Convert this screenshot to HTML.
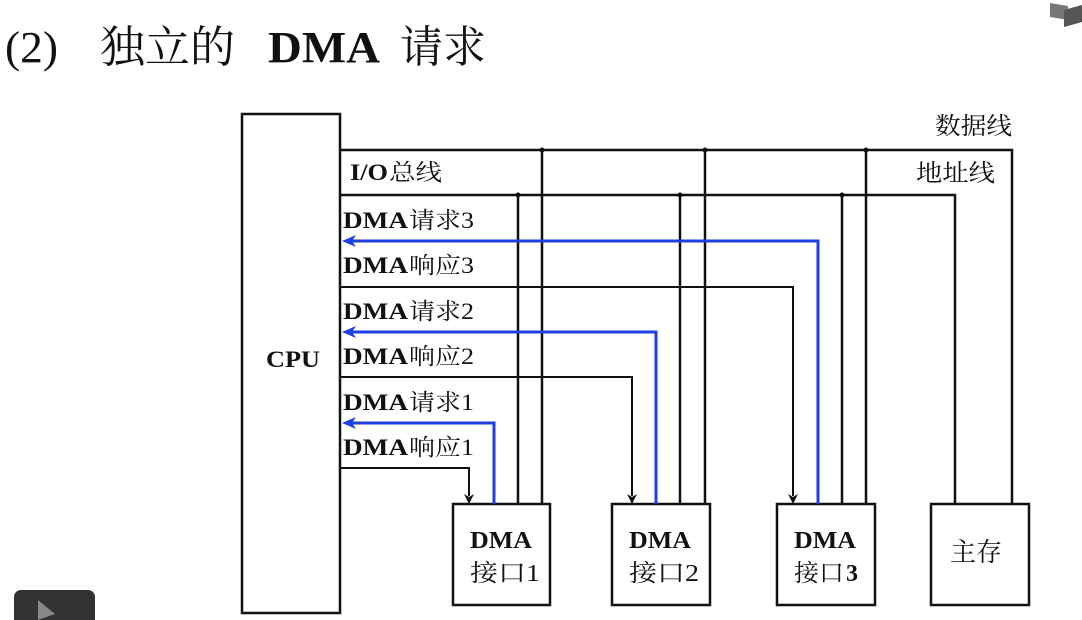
<!DOCTYPE html>
<html><head><meta charset="utf-8"><style>
html,body{margin:0;padding:0;background:#fff;width:1082px;height:620px;overflow:hidden}
svg{display:block}
.s{font-family:"Liberation Serif","Noto Serif CJK SC",serif}
</style></head><body>
<svg width="1082" height="620" viewBox="0 0 1082 620" xmlns="http://www.w3.org/2000/svg">
<g class="s" fill="#111" font-size="44">
<text x="5" y="62" textLength="53" lengthAdjust="spacingAndGlyphs">(2)</text>
<text x="100" y="62" textLength="135" lengthAdjust="spacingAndGlyphs">独立的</text>
<text x="268" y="62" font-weight="bold" textLength="112" lengthAdjust="spacingAndGlyphs">DMA</text>
<text x="400" y="62" textLength="86" lengthAdjust="spacingAndGlyphs">请求</text>
</g>
<polygon points="1050,3 1068,6 1068,20 1050,17" fill="#777"/>
<polygon points="1064,10 1082,5 1082,22 1064,27" fill="#555"/>
<rect x="14" y="590" width="81" height="40" rx="7" fill="#333"/>
<polygon points="38,600 55,614 38,620" fill="#888"/>

<g stroke="#111" stroke-width="2.5" fill="none">
<rect x="242" y="114" width="98" height="499"/>
<rect x="453" y="504" width="97" height="101"/>
<rect x="612" y="504" width="98" height="101"/>
<rect x="777" y="504" width="98" height="101"/>
<rect x="931" y="504" width="98" height="101"/>
<polyline points="340,150 1012,150 1012,504"/>
<line x1="542" y1="150" x2="542" y2="504"/>
<line x1="705" y1="150" x2="705" y2="504"/>
<line x1="866" y1="150" x2="866" y2="504"/>
<polyline points="340,195 955,195 955,504"/>
<line x1="518" y1="195" x2="518" y2="504"/>
<line x1="680" y1="195" x2="680" y2="504"/>
<line x1="842" y1="195" x2="842" y2="504"/>
</g>
<g fill="#111">
<circle cx="542" cy="150" r="2.5"/><circle cx="705" cy="150" r="2.5"/><circle cx="866" cy="150" r="2.5"/>
<circle cx="518" cy="195" r="2.5"/><circle cx="680" cy="195" r="2.5"/><circle cx="842" cy="195" r="2.5"/>
</g>
<g stroke="#111" stroke-width="2" fill="none">
<polyline points="340,287 793,287 793,496"/>
<polyline points="340,377 632,377 632,496"/>
<polyline points="340,468 469,468 469,496"/>
</g>
<g fill="#111">
<path d="M788,494 L793,504 L798,494 L793,497Z"/>
<path d="M627,494 L632,504 L637,494 L632,497Z"/>
<path d="M464,494 L469,504 L474,494 L469,497Z"/>
</g>
<g stroke="#1f3fe0" stroke-width="3" fill="none">
<polyline points="818,504 818,241 352,241"/>
<polyline points="656,504 656,332 352,332"/>
<polyline points="494,504 494,423 352,423"/>
</g>
<g fill="#1f3fe0">
<path d="M342,241 L356,235 L352,241 L356,247Z"/>
<path d="M342,332 L356,326 L352,332 L356,338Z"/>
<path d="M342,423 L356,417 L352,423 L356,429Z"/>
</g>

<g class="s" fill="#111" font-size="23">
<text x="266" y="367" font-weight="bold" textLength="54" lengthAdjust="spacingAndGlyphs">CPU</text>
<text x="350" y="180" font-weight="bold" textLength="38" lengthAdjust="spacingAndGlyphs">I/O</text>
<text x="389" y="180" textLength="53" lengthAdjust="spacingAndGlyphs">总线</text>
<g font-weight="bold">
<text x="343" y="228" textLength="65" lengthAdjust="spacingAndGlyphs">DMA</text>
<text x="343" y="273" textLength="65" lengthAdjust="spacingAndGlyphs">DMA</text>
<text x="343" y="319" textLength="65" lengthAdjust="spacingAndGlyphs">DMA</text>
<text x="343" y="364" textLength="65" lengthAdjust="spacingAndGlyphs">DMA</text>
<text x="343" y="410" textLength="65" lengthAdjust="spacingAndGlyphs">DMA</text>
<text x="343" y="455" textLength="65" lengthAdjust="spacingAndGlyphs">DMA</text>
</g>
<text x="409" y="228" textLength="65" lengthAdjust="spacingAndGlyphs">请求3</text>
<text x="409" y="273" textLength="65" lengthAdjust="spacingAndGlyphs">响应3</text>
<text x="409" y="319" textLength="65" lengthAdjust="spacingAndGlyphs">请求2</text>
<text x="409" y="364" textLength="65" lengthAdjust="spacingAndGlyphs">响应2</text>
<text x="409" y="410" textLength="65" lengthAdjust="spacingAndGlyphs">请求1</text>
<text x="409" y="455" textLength="65" lengthAdjust="spacingAndGlyphs">响应1</text>
<text x="935" y="134" font-size="24" textLength="77" lengthAdjust="spacingAndGlyphs">数据线</text>
<text x="916" y="181" font-size="24" textLength="79" lengthAdjust="spacingAndGlyphs">地址线</text>
<g font-size="24">
<text x="470" y="548" font-weight="bold" textLength="62" lengthAdjust="spacingAndGlyphs">DMA</text>
<text x="470" y="581" textLength="70" lengthAdjust="spacingAndGlyphs">接口1</text>
<text x="629" y="548" font-weight="bold" textLength="62" lengthAdjust="spacingAndGlyphs">DMA</text>
<text x="629" y="581" textLength="70" lengthAdjust="spacingAndGlyphs">接口2</text>
<text x="794" y="548" font-weight="bold" textLength="62" lengthAdjust="spacingAndGlyphs">DMA</text>
<text x="794" y="581" textLength="50" lengthAdjust="spacingAndGlyphs">接口</text>
<text x="846" y="581" font-weight="bold">3</text>
<text x="950" y="561" font-size="26" textLength="52" lengthAdjust="spacingAndGlyphs">主存</text>
</g>
</g>
</svg>
</body></html>
